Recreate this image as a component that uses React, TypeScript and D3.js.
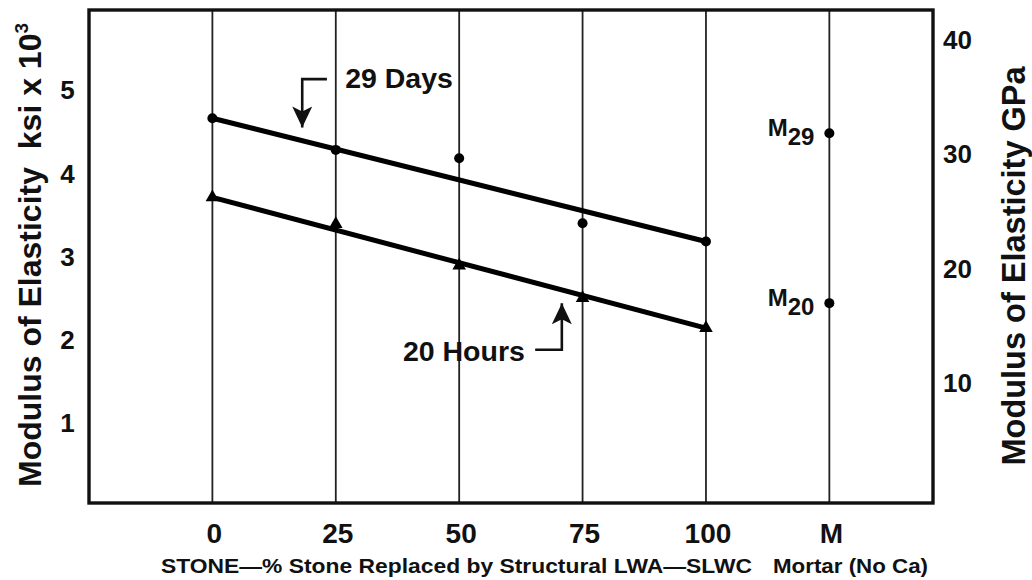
import * as React from 'react'
import * as d3 from 'd3'

// % stone replaced by structural LWA
const replaced = [0, 25, 50, 75, 100]
const mortarPos = 125
const xLabels = ['0', '25', '50', '75', '100', 'M']

// modulus, ksi x 10^3
const days29 = [4.66, 4.28, 4.18, 3.4, 3.18]
const hours20 = [3.71, 3.39, 2.89, 2.5, 2.14]
// fitted lines, value at 0 and at 100
const fit29 = [4.66, 3.18]
const fit20 = [3.71, 2.14]
const mortarLabels = ['29', '20']
const mortarValues = [4.48, 2.44]

const ksiTicks = [1, 2, 3, 4, 5]
const gpaTicks = [10, 20, 30, 40]

const FONT = '"Liberation Sans", Arial, Helvetica, sans-serif'

export default function App() {
  const ref = React.useRef<SVGSVGElement>(null)

  React.useEffect(() => {
    const width = 1032
    const height = 580
    const margin = { top: 10, right: 99, bottom: 77, left: 89 }

    const x = d3.scaleLinear().domain([-25, 146]).range([margin.left, width - margin.right])
    const y = d3.scaleLinear().domain([0.04, 5.96]).range([height - margin.bottom, margin.top])
    const yGpa = d3.scaleLinear().domain([-0.5, 42.6]).range([height - margin.bottom, margin.top])

    const svg = d3.select(ref.current)
    svg.selectAll('*').remove()
    svg.attr('width', width).attr('height', height)
      .style('font-family', FONT)

    svg.append('rect')
      .attr('width', width).attr('height', height).attr('fill', '#fff')

    const xs = [...replaced, mortarPos]

    // vertical grid
    svg.selectAll('.grid')
      .data(xs)
      .enter().append('line')
      .attr('class', 'grid')
      .attr('x1', d => x(d)).attr('x2', d => x(d))
      .attr('y1', margin.top).attr('y2', height - margin.bottom)
      .attr('stroke', '#222')
      .attr('stroke-width', 1.8)

    // frame
    svg.append('rect')
      .attr('x', margin.left).attr('y', margin.top)
      .attr('width', width - margin.left - margin.right)
      .attr('height', height - margin.top - margin.bottom)
      .attr('fill', 'none')
      .attr('stroke', '#111')
      .attr('stroke-width', 3.4)

    const txt = (sel: any) => sel.attr('font-weight', 'bold').attr('fill', '#111')

    // tick labels
    svg.selectAll('.xlab')
      .data(xs)
      .enter().append('text')
      .call(txt)
      .attr('x', d => x(d) + 2)
      .attr('y', 543)
      .attr('text-anchor', 'middle')
      .attr('font-size', 28)
      .text((d, i) => xLabels[i])

    svg.selectAll('.ylab')
      .data(ksiTicks)
      .enter().append('text')
      .call(txt)
      .attr('x', 67.5)
      .attr('y', d => y(d))
      .attr('dy', '0.36em')
      .attr('text-anchor', 'middle')
      .attr('font-size', 26)
      .text(d => d)

    svg.selectAll('.glab')
      .data(gpaTicks)
      .enter().append('text')
      .call(txt)
      .attr('x', 943)
      .attr('y', d => yGpa(d))
      .attr('dy', '0.36em')
      .attr('font-size', 26)
      .text(d => d)

    // axis titles
    const left = svg.append('text')
      .call(txt)
      .attr('transform', `translate(41, 255) rotate(-90)`)
      .attr('text-anchor', 'middle')
      .attr('font-size', 32)
    left.append('tspan').text('Modulus of Elasticity\u00a0\u00a0ksi x 10')
    left.append('tspan').attr('font-size', 19).attr('dy', -13).text('3')

    svg.append('text')
      .call(txt)
      .attr('transform', `translate(1025, 266) rotate(-90)`)
      .attr('text-anchor', 'middle')
      .attr('font-size', 32.5)
      .text('Modulus of Elasticity GPa')

    svg.append('text')
      .call(txt)
      .attr('x', 161).attr('y', 573)
      .attr('font-size', 20)
      .attr('textLength', 591)
      .attr('lengthAdjust', 'spacingAndGlyphs')
      .text('STONE\u2014% Stone Replaced by Structural LWA\u2014SLWC')

    svg.append('text')
      .call(txt)
      .attr('x', 773).attr('y', 573)
      .attr('font-size', 20)
      .attr('textLength', 155)
      .attr('lengthAdjust', 'spacingAndGlyphs')
      .text('Mortar (No Ca)')

    // fitted lines
    const line = d3.line<[number, number]>().x(d => x(d[0])).y(d => y(d[1]))
    ;[fit29, fit20].forEach(f => {
      svg.append('path')
        .attr('d', line([[0, f[0]], [100, f[1]]]))
        .attr('stroke', '#000')
        .attr('stroke-width', 5)
        .attr('fill', 'none')
    })

    // 29 day dots
    svg.selectAll('.d29')
      .data(days29)
      .enter().append('circle')
      .attr('cx', (d, i) => x(replaced[i]))
      .attr('cy', d => y(d))
      .attr('r', 5)
      .attr('fill', '#000')

    // 20 hour triangles
    const tri = d3.symbol().type(d3.symbolTriangle).size(80)
    svg.selectAll('.h20')
      .data(hours20)
      .enter().append('path')
      .attr('d', tri)
      .attr('transform', (d, i) => `translate(${x(replaced[i])}, ${y(d)})`)
      .attr('fill', '#000')

    // mortar points
    svg.selectAll('.mort')
      .data(mortarValues)
      .enter().append('circle')
      .attr('cx', x(mortarPos))
      .attr('cy', d => y(d))
      .attr('r', 5)
      .attr('fill', '#000')

    mortarValues.forEach((v, i) => {
      const t = svg.append('text')
        .call(txt)
        .attr('x', x(mortarPos) - 15)
        .attr('y', y(v))
        .attr('text-anchor', 'end')
        .attr('font-size', 24)
      t.append('tspan').attr('dy', 3).text('M')
      t.append('tspan').attr('dy', 9).text(mortarLabels[i])
    })

    // annotations with arrows
    const arrow = (pts: [number, number][]) => {
      const p = pts.map(d => [x(d[0]), y(d[1])] as [number, number])
      svg.append('path')
        .attr('d', d3.line()(p))
        .attr('fill', 'none')
        .attr('stroke', '#111')
        .attr('stroke-width', 2.6)
      const tip = p[p.length - 1]
      const dir = Math.sign(tip[1] - p[p.length - 2][1])
      svg.append('path')
        .attr('d', `M${tip[0]},${tip[1]} L${tip[0] - 10},${tip[1] - dir * 21} L${tip[0]},${tip[1] - dir * 16} L${tip[0] + 10},${tip[1] - dir * 21} Z`)
        .attr('fill', '#111')
    }

    arrow([[23.2, 5.13], [18.2, 5.13], [18.2, 4.55]])
    svg.append('text')
      .call(txt)
      .attr('x', x(26.9)).attr('y', y(5.02))
      .attr('font-size', 28.5)
      .text('29 Days')

    arrow([[65.4, 1.88], [70.8, 1.88], [70.8, 2.44]])
    svg.append('text')
      .call(txt)
      .attr('x', x(38.6)).attr('y', y(1.74))
      .attr('font-size', 28.5)
      .text('20 Hours')
  }, [])

  return (
    <div style={{ position: 'absolute', left: 0, top: 0 }}>
      <svg ref={ref} style={{ display: 'block' }} />
    </div>
  )
}
